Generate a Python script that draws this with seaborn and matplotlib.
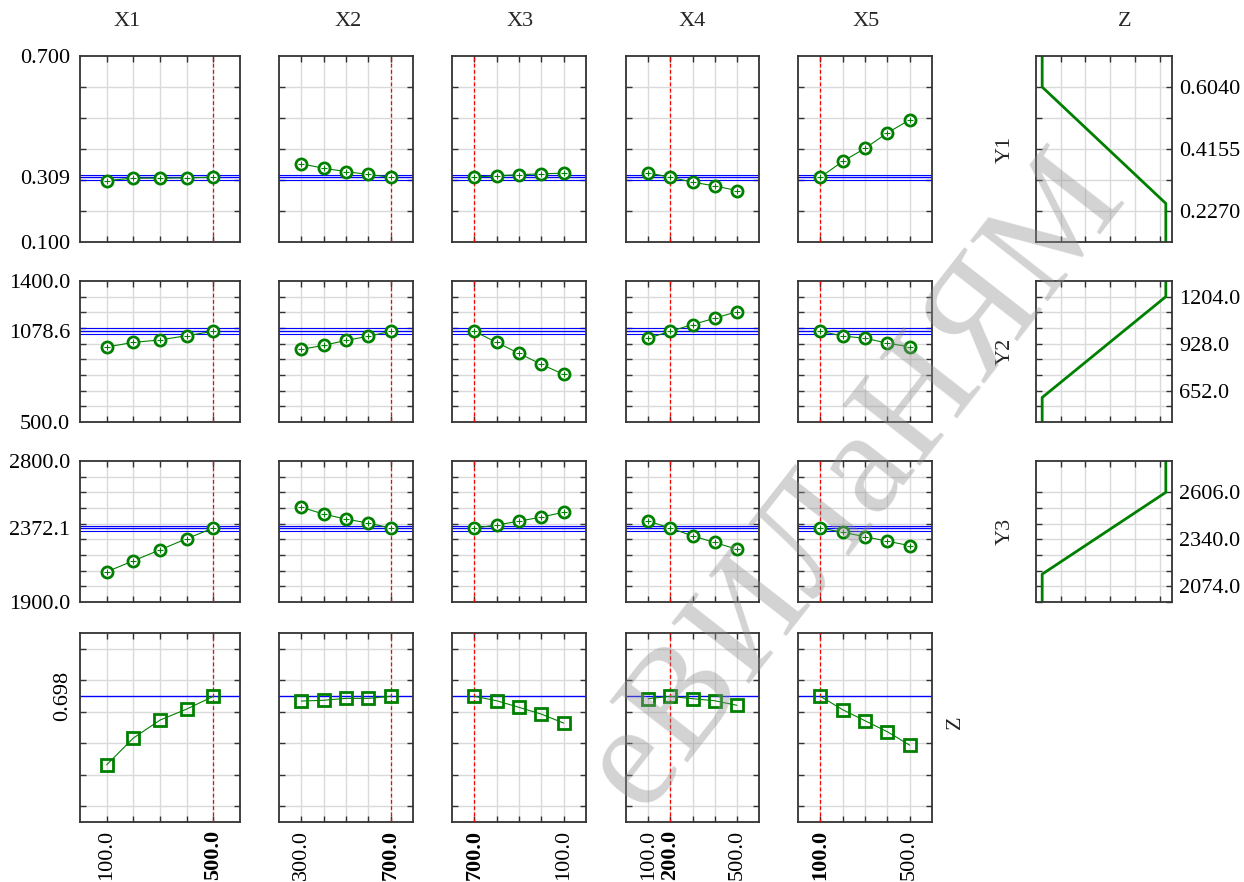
import numpy as np
import matplotlib
matplotlib.use("Agg")
import matplotlib.pyplot as plt
import seaborn as sns

# factor levels at which each profile is evaluated
x_names = ["X1", "X2", "X3", "X4", "X5"]
x_levels = [
    [100, 200, 300, 400, 500],
    [300, 400, 500, 600, 700],
    [700, 550, 400, 250, 100],
    [100, 200, 300, 400, 500],
    [100, 200, 300, 400, 500],
]
x_current = [500, 700, 700, 200, 100]

# predicted responses (one list per factor)
y1 = [
    [0.298, 0.306, 0.306, 0.307, 0.309],
    [0.352, 0.338, 0.327, 0.318, 0.309],
    [0.309, 0.314, 0.317, 0.320, 0.322],
    [0.323, 0.309, 0.293, 0.281, 0.266],
    [0.309, 0.360, 0.402, 0.452, 0.494],
]
y2 = [
    [979, 1008, 1024, 1051, 1078.6],
    [964, 989, 1021, 1047, 1078.6],
    [1078.6, 1008, 938, 868, 804],
    [1035, 1078.6, 1122, 1162, 1204],
    [1078.6, 1049, 1034, 1004, 979],
]
y3 = [
    [2093, 2163, 2233, 2304, 2372.1],
    [2505, 2461, 2429, 2404, 2372.1],
    [2372.1, 2391, 2416, 2442, 2473],
    [2416, 2372.1, 2322, 2280, 2237],
    [2372.1, 2345, 2317, 2288, 2260],
]
z = [
    [0.263, 0.433, 0.547, 0.617, 0.698],
    [0.668, 0.673, 0.685, 0.685, 0.698],
    [0.698, 0.670, 0.628, 0.585, 0.528],
    [0.683, 0.698, 0.683, 0.670, 0.641],
    [0.698, 0.613, 0.543, 0.473, 0.388],
]
resp_names = ["Y1", "Y2", "Y3"]
resp_values = [y1, y2, y3]
y_current = [0.309, 1078.6, 2372.1]
y_current_txt = ["0.309", "1078.6", "2372.1"]
y_ci = [0.008, 19, 16]
z_current = 0.698

# axis ranges of the response rows
y_lims = [(0.1, 0.7), (500, 1400), (1900, 2800)]
y_lim_txt = [("0.100", "0.700"), ("500.0", "1400.0"), ("1900.0", "2800.0")]
y_grid_step = [0.1, 100, 100]

# desirability functions: response value where d = 0 and d = 1
d0_at = [0.604, 612, 2143]
d1_at = [0.250, 1204, 2606]
d_ticks = [[0.2270, 0.4155, 0.6040], [652.0, 928.0, 1204.0], [2074.0, 2340.0, 2606.0]]
d_ylims = [(0.1328, 0.6983), (468, 1296), (1985.3, 2783.3)]

GREEN = "#008000"
SPINE = "#333333"
FS = 16

sns.set_style("white")
plt.rcParams["font.family"] = ["Liberation Serif", "DejaVu Serif"]

W, H = 1244, 882
fig = plt.figure(figsize=(W / 100, H / 100), dpi=100)


def box(x0, x1, y0, y1):
    return [x0 / W, 1 - y1 / H, (x1 - x0) / W, (y1 - y0) / H]


col_px = [(80, 240), (279, 413), (452, 586), (626, 759), (798, 932)]
row_px = [(56, 242), (281, 422), (461, 602), (633, 822)]
right_px = (1036, 1172)


def style(ax):
    for s in ax.spines.values():
        s.set_color(SPINE)
        s.set_linewidth(1.3)
    ax.xaxis.remove_overlapping_locs = False
    ax.yaxis.remove_overlapping_locs = False
    ax.tick_params(which="major", direction="in", length=4, width=1, color=SPINE,
                   top=True, right=True, bottom=True, left=True,
                   labelleft=False, labelbottom=False)
    ax.tick_params(which="minor", length=0, labelsize=FS, colors="black",
                   labelleft=False, labelbottom=False)
    ax.grid(True, which="major", color="#dadada", lw=1)
    ax.set_axisbelow(True)


for c in range(5):
    xs = np.array(x_levels[c])
    step = abs(xs[1] - xs[0])
    for r in range(4):
        ax = fig.add_axes(box(*col_px[c], *row_px[r]))
        style(ax)
        if r < 3:
            ys = resp_values[r][c]
            lo, hi = y_lims[r]
            ax.set_ylim(lo, hi)
            ax.set_yticks(np.arange(lo + y_grid_step[r], hi - 1e-9, y_grid_step[r]))
            for k in (-1, 0, 1):
                ax.axhline(y_current[r] + k * y_ci[r], color="blue",
                           lw=1.0 if k == 0 else 0.8, zorder=2)
            sns.lineplot(x=xs, y=ys, ax=ax, sort=False, estimator=None, color=GREEN,
                         lw=0.8, marker="o", markersize=8, markeredgewidth=2,
                         markerfacecolor="white", markeredgecolor=GREEN, zorder=4)
            ax.plot(xs, ys, ls="none", marker="+", ms=4, mew=0.8, color=GREEN, zorder=5)
            if c == 0:
                ax.set_yticks([lo, y_current[r], hi],
                              labels=[y_lim_txt[r][0], y_current_txt[r], y_lim_txt[r][1]],
                              minor=True)
                ax.tick_params(which="minor", labelleft=True, pad=7)
        else:
            ax.set_ylim(-0.1, 1.1)
            ax.set_yticks(np.arange(0, 1.01, 0.2))
            ax.axhline(z_current, color="blue", lw=1.0, zorder=2)
            sns.lineplot(x=xs, y=z[c], ax=ax, sort=False, estimator=None, color=GREEN,
                         lw=0.8, marker="s", markersize=8, markeredgewidth=2,
                         markerfacecolor="none", markeredgecolor=GREEN, zorder=4)
            if c == 0:
                ax.set_yticks([z_current], labels=["0.698"], minor=True,
                              rotation=90, va="center")
                ax.tick_params(which="minor", labelleft=True, pad=10)
            # x tick labels: ends and current setting (bold)
            lab_pos = sorted({xs[0], xs[-1], x_current[c]}, key=lambda v: list(xs).index(v))
            ax.set_xticks(lab_pos, labels=[f"{v:.1f}" for v in lab_pos], minor=True,
                          rotation=90)
            ax.tick_params(which="minor", labelbottom=True, pad=6)
            for t, v in zip(ax.xaxis.get_minorticklabels(), lab_pos):
                if v == x_current[c]:
                    t.set_fontweight("bold")
        ax.set_xticks(xs)
        if xs[0] < xs[-1]:
            ax.set_xlim(xs.min() - step, xs.max() + step)
        else:
            ax.set_xlim(xs.max() + step, xs.min() - step)
        ax.axvline(x_current[c], color="red", lw=0.9, ls=(0, (3, 2)), zorder=3)
        ax.set_xlabel("")
        ax.set_ylabel("")

# desirability function panels
for r in range(3):
    ax = fig.add_axes(box(*right_px, *row_px[r]))
    style(ax)
    lo, hi = d_ylims[r]
    ax.set_ylim(lo, hi)
    ax.set_xlim(-0.05, 1.05)
    ax.set_xticks([0.15, 0.35, 0.55, 0.75, 0.95])
    t0, t2 = d_ticks[r][0], d_ticks[r][2]
    if r == 0:
        gstep = (t2 - t0) / 4
        ax.set_yticks(np.arange(t0, t2 + gstep * 0.5, gstep))
    else:
        gstep = (t2 - t0) / 6
        ax.set_yticks(np.arange(t0 - gstep, t2 + gstep * 0.5, gstep))
    dx = [0, 0, 1, 1]
    if d0_at[r] > d1_at[r]:
        dy = [hi, d0_at[r], d1_at[r], lo]
    else:
        dy = [lo, d0_at[r], d1_at[r], hi]
    sns.lineplot(x=dx, y=dy, ax=ax, sort=False, estimator=None, color=GREEN, lw=2)
    ax.set_yticks(d_ticks[r], labels=[f"{v:.4f}" if r == 0 else f"{v:.1f}" for v in d_ticks[r]],
                  minor=True)
    ax.tick_params(which="minor", labelright=True, labelleft=False, pad=5)
    ax.set_xlabel("")
    ax.set_ylabel("")
    fig.text(1005 / W, 1 - (sum(row_px[r]) / 2) / H, resp_names[r], rotation=90,
             ha="center", va="center", fontsize=FS)

# column titles and the overall desirability label
title_x = [127, 348, 520, 692, 866]
for name, tx in zip(x_names, title_x):
    fig.text(tx / W, 1 - 22 / H, name, ha="center", va="center", fontsize=FS)
fig.text(1125 / W, 1 - 22 / H, "Z", ha="center", va="center", fontsize=FS)
fig.text(955 / W, 1 - 722 / H, "Z", rotation=90, ha="center", va="center", fontsize=FS)

# watermark of the source document
fig.text(855 / W, 1 - 482 / H, "еВИЛаНЯМ", rotation=52, ha="center", va="center",
         fontsize=108, color="#909090", alpha=0.4)

fig.savefig("out.png", dpi=100)
